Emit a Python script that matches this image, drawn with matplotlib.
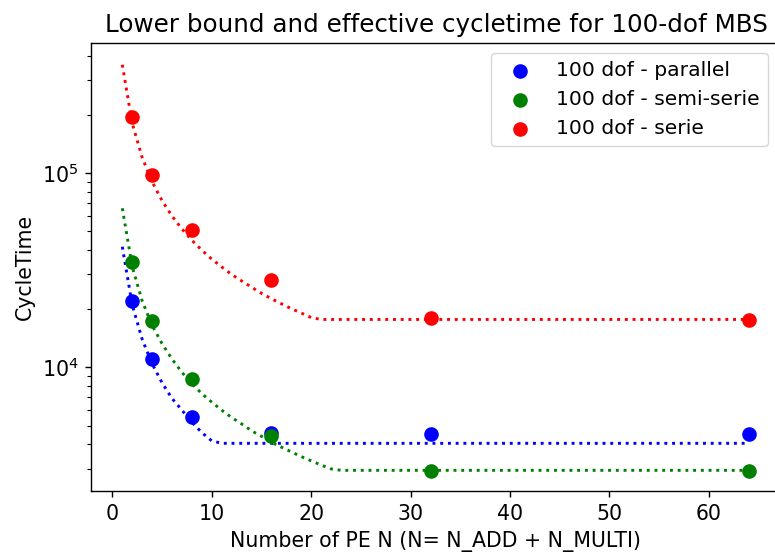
import numpy as np
import matplotlib
matplotlib.use('Agg')
import matplotlib.pyplot as plt

plt.rcParams['font.size'] = 14.8
plt.rcParams['axes.linewidth'] = 1.0
plt.rcParams['axes.labelpad'] = 5.1
for a in ('xtick', 'ytick'):
    plt.rcParams[a + '.major.size'] = 4.5
    plt.rcParams[a + '.major.pad'] = 4.5
    plt.rcParams[a + '.major.width'] = 1.0
    plt.rcParams[a + '.minor.size'] = 2.6
    plt.rcParams[a + '.minor.pad'] = 4.4
    plt.rcParams[a + '.minor.width'] = 0.8

# measured cycle times
pe = [2, 4, 8, 16, 32, 64]
ct_parallel = [21900, 10950, 5510, 4580, 4550, 4550]
ct_semi = [34900, 17300, 8710, 4420, 2920, 2920]
ct_serie = [195000, 97700, 50800, 28000, 18000, 17500]

# lower bounds
lb_par_x = [1, 2, 3, 4, 5, 6, 7, 8, 9, 10, 11, 64]
lb_par_y = [41700, 20900, 13900, 10400, 8300, 6900, 6000, 5200, 4600, 4170, 4050, 4050]
lb_semi_x = [1, 2, 3, 4, 5, 6, 7, 8, 9, 10, 11, 12, 13, 14, 15, 16, 17, 18, 19, 20,
             21, 22, 23, 64]
lb_semi_y = [65800, 32900, 21900, 16400, 13200, 11000, 9400, 8200, 7300, 6600, 6000,
             5500, 5100, 4700, 4400, 4100, 3870, 3660, 3460, 3290, 3130, 2990, 2940, 2940]
lb_serie_x = [1, 2, 3, 4, 5, 6, 7, 8, 9, 10, 11, 12, 13, 14, 15, 16, 17, 18, 19, 20,
              21, 64]
lb_serie_y = [361000, 180000, 120000, 90000, 72000, 60000, 51500, 45000, 40000, 36000,
              32800, 30000, 27800, 25800, 24000, 22500, 21200, 20000, 19000, 18000,
              17600, 17600]

fig = plt.figure(figsize=(7.75, 5.59), dpi=100)
# right spine falls just outside the canvas, as in the reference crop
ax = fig.add_axes([0.1174, 0.1216, 0.8903, 0.8014])

ax.scatter(pe, ct_parallel, s=90, color='blue', label='100 dof - parallel', zorder=3)
ax.scatter(pe, ct_semi, s=90, color='green', label='100 dof - semi-serie', zorder=3)
ax.scatter(pe, ct_serie, s=90, color='red', label='100 dof - serie', zorder=3)

ax.plot(lb_par_x, lb_par_y, ':', color='blue', lw=2.1)
ax.plot(lb_semi_x, lb_semi_y, ':', color='green', lw=2.1)
ax.plot(lb_serie_x, lb_serie_y, ':', color='red', lw=2.1)

ax.set_yscale('log')
ax.set_xlim(-2.15, 67.25)
ax.set_ylim(2300, 467000)

ax.set_title('Lower bound and effective cycletime for 100-dof MBS', fontsize=17.7, pad=7.7)
ax.set_xlabel('Number of PE N (N= N_ADD + N_MULTI)')
ax.set_ylabel('CycleTime')
ax.legend(loc='upper right', fontsize=14.6, borderaxespad=0,
          bbox_to_anchor=(0.981, 0.978))

fig.savefig('out.png', dpi=100)
